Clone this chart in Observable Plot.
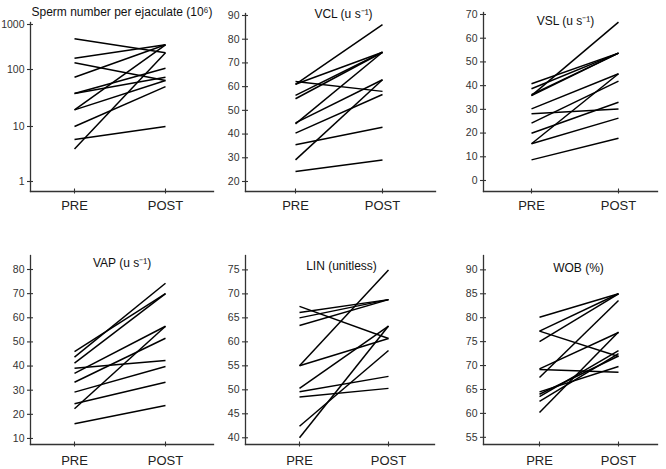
<!DOCTYPE html>
<html><head><meta charset="utf-8">
<script src="https://cdn.jsdelivr.net/npm/d3@7"></script>
<script src="https://cdn.jsdelivr.net/npm/@observablehq/plot@0.6"></script>
<style>
body{margin:0;background:#fff;}
#chart{position:relative;width:666px;height:469px;font-family:"Liberation Sans",Arial,sans-serif;}
#chart > div{position:absolute;}
</style></head><body><div id="chart"></div>
<script>
// ---- data ----
const phases = ["PRE", "POST"];

const spermPre  = [480, 178, 141, 73, 38, 38, 19.6, 19.6, 10, 5.8, 3.9];
const spermPost = [235, 354, 64, 354, 107, 73, 354, 64, 50, 10, 235];
const spermTicks = [1, 10, 100, 1000];

const vclPre  = [61, 62.2, 61, 56.3, 54.9, 44.7, 44.3, 40.4, 35.5, 29.1, 24.2];
const vclPost = [86.1, 58, 74.5, 74.5, 74.5, 62.9, 74.5, 56.7, 42.9, 62.9, 29.1];
const vclTicks = [20, 30, 40, 50, 60, 70, 80, 90];

const vslPre  = [35.8, 40.8, 38.7, 36.2, 35.8, 30.2, 28.1, 24.2, 19.9, 15.5, 15.5, 8.7];
const vslPost = [66.8, 53.7, 53.7, 53.7, 53.7, 45, 30.1, 41.9, 33, 45, 26.3, 17.8];
const vslTicks = [0, 10, 20, 30, 40, 50, 60, 70];

const vapPre  = [46, 43.7, 41.2, 39.1, 37, 33.3, 29.2, 24.4, 22.3, 16.1];
const vapPost = [70, 74.3, 70, 42.3, 56.5, 51.5, 39.8, 33.3, 56.5, 23.7];
const vapTicks = [10, 20, 30, 40, 50, 60, 70, 80];

const linPre  = [67.4, 66.1, 65, 63.4, 55, 55, 50.3, 49.6, 48.5, 42.4, 40];
const linPost = [60.7, 68.8, 68.8, 68.8, 75, 60.7, 63.3, 52.8, 50.3, 58.2, 63.3];
const linTicks = [40, 45, 50, 55, 60, 65, 70, 75];

const wobPre  = [80.1, 77.2, 77.2, 75, 69.3, 69.2, 67.5, 64.5, 64, 63.5, 62.5, 60.2];
const wobPost = [85, 85, 71.9, 85, 76.9, 68.6, 83.6, 69.8, 72, 73.1, 72.5, 77];
const wobTicks = [55, 60, 65, 70, 75, 80, 85, 90];

const titles = ["Sperm number per ejaculate (10\u2076)", "VCL (u s\u207B\u00B9)", "VSL (u s\u207B\u00B9)",
                "VAP (u s\u207B\u00B9)", "LIN (unitless)", "WOB (%)"];

// ---- layout ----
const panels = [
  {pre: spermPre, post: spermPost, ticks: spermTicks, title: titles[0], left: 0, top: 0, h: 232,
   ml: 30, mr: 9, mt: 22, mb: 41, type: "log", domain: [0.658, 1, 10, 100, 1000, 1108], range: [191, 181, 126, 69, 24, 22],
   pad: 0.495, align: 0.48, tdx: 0, tdy: -15, lab: 9.5},
  {pre: vclPre, post: vclPost, ticks: vclTicks, title: titles[1], left: 222, top: 0, h: 232,
   ml: 23, mr: 9, mt: 13, mb: 41, type: "linear", domain: [15.78, 90.84],
   pad: 0.58, align: 0.49, tdx: 3, tdy: -4, lab: 9.5},
  {pre: vslPre, post: vslPost, ticks: vslTicks, title: titles[2], left: 444, top: 0, h: 232,
   ml: 39, mr: 9, mt: 12, mb: 41, type: "linear", domain: [-4.64, 70.84],
   pad: 0.5, align: 0.55, tdx: -5, tdy: 4, lab: 9.5},
  {pre: vapPre, post: vapPost, ticks: vapTicks, title: titles[3], left: 0, top: 232, h: 237,
   ml: 30, mr: 9, mt: 23, mb: 25, type: "linear", domain: [7.5, 85.8],
   pad: 0.495, align: 0.48, tdx: 0, tdy: 3, lab: 11.5},
  {pre: linPre, post: linPost, ticks: linTicks, title: titles[4], left: 222, top: 232, h: 237,
   ml: 23, mr: 10, mt: 23, mb: 25, type: "linear", domain: [38.6, 78],
   pad: 0.56, align: 0.54, tdx: 1.5, tdy: 6, lab: 11.5},
  {pre: wobPre, post: wobPost, ticks: wobTicks, title: titles[5], left: 444, top: 232, h: 237,
   ml: 39, mr: 9, mt: 23, mb: 25, type: "linear", domain: [53.5, 93],
   pad: 0.6, align: 0.59, tdx: 8, tdy: 8, lab: 11.5}
];

const FONT = '"Liberation Sans", Arial, Helvetica, sans-serif';
const AXIS = "#333";
const chart = document.getElementById("chart");

for (const p of panels) {
  const rows = p.pre.map((v, i) => ({pre: v, post: p.post[i]}));
  const yScale = {type: p.type, domain: p.domain};
  if (p.range) yScale.range = p.range;
  const svg = Plot.plot({
    width: 222, height: p.h,
    marginLeft: p.ml, marginRight: p.mr, marginTop: p.mt, marginBottom: p.mb,
    style: {fontFamily: FONT, background: "transparent", overflow: "visible", color: "#222"},
    x: {type: "point", domain: phases, padding: p.pad, align: p.align},
    y: yScale,
    marks: [
      Plot.frame({anchor: "left", stroke: AXIS, strokeWidth: 1.3}),
      Plot.frame({anchor: "bottom", stroke: AXIS, strokeWidth: 1.3}),
      Plot.axisY({ticks: p.ticks, tickSize: 6, dx: 3, fill: "none", stroke: AXIS, strokeWidth: 1.1, label: null}),
      Plot.axisY({ticks: p.ticks, tickSize: 3, tickPadding: 3, stroke: "none", fill: "#333", fontSize: 10.5,
                  tickFormat: d => String(d), label: null}),
      Plot.axisX({tickSize: 5, dy: -2.5, fill: "none", stroke: AXIS, strokeWidth: 1.1, label: null}),
      Plot.axisX({tickSize: 0, tickPadding: p.lab, stroke: "none", fill: "#222", fontSize: 13, label: null}),
      Plot.link(rows, {x1: () => "PRE", x2: () => "POST", y1: "pre", y2: "post", stroke: "#000", strokeWidth: 1.5}),
      Plot.text([p.title], {text: d => d, frameAnchor: "top", dx: p.tdx, dy: p.tdy, fontSize: 12, fill: "#111"})
    ]
  });
  const holder = document.createElement("div");
  holder.style.left = p.left + "px";
  holder.style.top = p.top + "px";
  holder.appendChild(svg);
  chart.appendChild(holder);
}
</script></body></html>
